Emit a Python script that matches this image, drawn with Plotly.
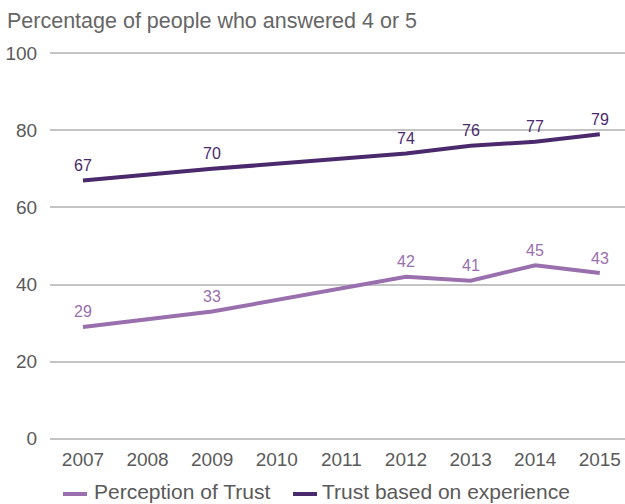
import plotly.graph_objects as go

years = [2007, 2008, 2009, 2010, 2011, 2012, 2013, 2014, 2015]
perception = [29, None, 33, None, None, 42, 41, 45, 43]
experience = [67, None, 70, None, None, 74, 76, 77, 79]
y_ticks = [0, 20, 40, 60, 80, 100]
series_names = ["Perception of Trust", "Trust based on experience"]

c_light = "#9a6fae"
c_dark = "#4a2a6c"
font = "Liberation Sans, Arial, sans-serif"

W, H = 625, 504
ML, MR, MT, MB = 50, 0, 52, 64

fig = go.Figure()
annotations = []
for name, vals, col in [(series_names[0], perception, c_light),
                        (series_names[1], experience, c_dark)]:
    fig.add_trace(go.Scatter(
        x=years, y=vals, name=name, mode="lines",
        connectgaps=True, line=dict(color=col, width=4),
        showlegend=False, cliponaxis=False,
    ))
    for x, v in zip(years, vals):
        if v is None:
            continue
        annotations.append(dict(
            x=x, y=v, xref="x", yref="y", text=str(v), showarrow=False,
            yshift=15, yanchor="middle", xanchor="center",
            font=dict(color=col, size=16, family=font),
        ))

# custom legend (paper coords)
def px_x(p):
    return (p - ML) / (W - ML - MR)

def px_y(p):
    return (H - MB - p) / (H - MT - MB)

shapes = []
for (x0, x1, tx), name, col in [((63, 87, 92), series_names[0], c_light),
                                ((293, 317, 320), series_names[1], c_dark)]:
    shapes.append(dict(type="line", xref="paper", yref="paper",
                       x0=px_x(x0), x1=px_x(x1), y0=px_y(494), y1=px_y(494),
                       line=dict(color=col, width=4)))
    annotations.append(dict(x=px_x(tx), y=px_y(491), xref="paper", yref="paper",
                            text=name, showarrow=False, xanchor="left",
                            yanchor="middle",
                            font=dict(size=21, color="#5a5a5a", family=font)))

fig.update_layout(
    width=W, height=H,
    margin=dict(l=ML, r=MR, t=MT, b=MB, autoexpand=False),
    paper_bgcolor="white", plot_bgcolor="white",
    font=dict(family=font, color="#666666", size=19),
    title=dict(text="Percentage of people who answered 4 or 5",
               x=7/W, xanchor="left", xref="container",
               y=1-20/H, yanchor="middle", yref="container",
               font=dict(size=21.5, color="#666666", family=font)),
    xaxis=dict(range=[2006.49, 2015.39], tickvals=years,
               ticktext=[str(y) for y in years],
               showgrid=False, zeroline=False, showline=False,
               ticks="outside", ticklen=2, tickcolor="rgba(0,0,0,0)",
               tickfont=dict(size=19, color="#5a5a5a")),
    yaxis=dict(range=[-0.3, 100.3], tickvals=y_ticks,
               showgrid=True, gridcolor="#c4c4c4", gridwidth=1.5,
               zeroline=False, showline=False,
               ticks="outside", ticklen=8, tickcolor="rgba(0,0,0,0)",
               tickfont=dict(size=19, color="#5a5a5a")),
    showlegend=False,
    annotations=annotations,
    shapes=shapes,
)

fig.write_html("out.html")
